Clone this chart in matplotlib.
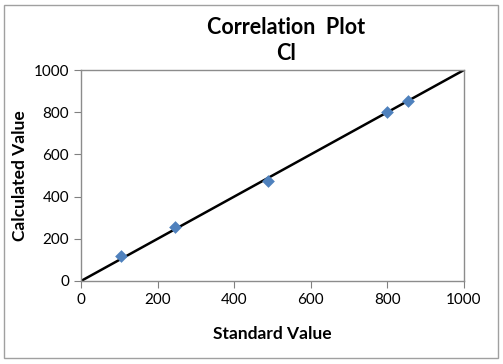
import matplotlib
matplotlib.use("Agg")
import matplotlib.pyplot as plt
from matplotlib.patches import Rectangle

standard = [104, 245, 487, 800, 855]
calculated = [120, 257, 475, 802, 852]
fit_x = [0, 1000]
fit_y = [0, 1000]
ticks = [0, 200, 400, 600, 800, 1000]

plt.rcParams['font.family'] = ['Lato', 'DejaVu Sans']

fig = plt.figure(figsize=(5.03, 3.64), dpi=100)
fig.patches.append(Rectangle((4/503, 1-358/364), 494/503, 353/364, transform=fig.transFigure,
                             fill=False, edgecolor='#a0a0a0', lw=1))
ax = fig.add_axes([81/503, 1-281/364, 383/503, 211/364])
ax.plot(fit_x, fit_y, color='black', lw=1.8, zorder=2)
ax.scatter(standard, calculated, marker='D', s=42, color='#4F81BD', zorder=3, linewidths=0)
ax.set_xlim(0, 1000)
ax.set_ylim(0, 1000)
ax.set_xticks(ticks)
ax.set_yticks(ticks)
ax.tick_params(labelsize=11, length=5, direction='out', color='#808080', labelcolor='#000000')
for s in ax.spines.values():
    s.set_color('#8c8c8c')
    s.set_linewidth(1)
ax.set_xlabel('Standard Value', fontsize=12.5, fontweight='bold', labelpad=14)
ax.set_ylabel('Calculated Value', fontsize=12.5, fontweight='bold', labelpad=4)
fig.text(286/503, 1-27/364, 'Correlation  Plot', ha='center', va='center', fontsize=15.5, fontweight='bold')
fig.text(286/503, 1-54/364, 'Cl', ha='center', va='center', fontsize=15.5, fontweight='bold')
fig.savefig('out.png', dpi=100)
